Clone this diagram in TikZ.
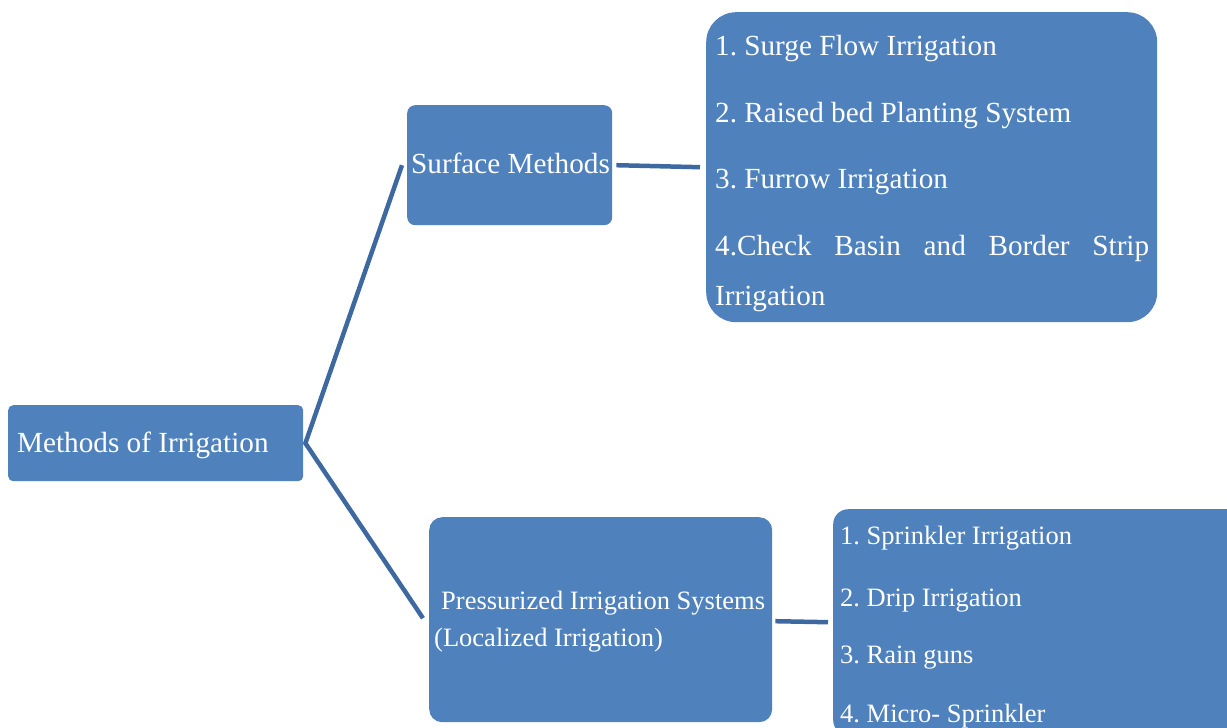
\documentclass[tikz,border=0pt]{standalone}
\usepackage{fontspec}
\setmainfont{Liberation Serif}
\frenchspacing
\definecolor{boxblue}{HTML}{4F81BD}
\definecolor{lineblue}{RGB}{62,105,160}
\tikzset{
  box/.style={draw=none, fill=boxblue, inner sep=0pt, anchor=north west},
  big/.style={text=white, inner sep=0pt, anchor=base west, font=\fontsize{29.2}{35}\selectfont},
  small/.style={text=white, inner sep=0pt, anchor=base west, font=\fontsize{26.5}{32}\selectfont},
  conn/.style={draw=lineblue, line width=4.5pt},
}
\begin{document}
\begin{tikzpicture}[x=1pt,y=-1pt]
\useasboundingbox (0,0) rectangle (1227,728);
\clip (0,0) rectangle (1227,728);
% boxes
\node[box, rounded corners=5pt, minimum width=295pt, minimum height=76pt] (root) at (8,405) {};
\node[box, rounded corners=8pt, minimum width=205pt, minimum height=120pt] (surf) at (407,105) {};
\node[box, rounded corners=30pt, minimum width=451pt, minimum height=310pt] (slist) at (706,12) {};
\node[box, rounded corners=13pt, minimum width=343pt, minimum height=205pt] (press) at (429,517) {};
\node[box, rounded corners=15pt, minimum width=410pt, minimum height=226pt] (plist) at (833,509) {};
% texts
\node[big] (troot) at (17,452) {Methods of Irrigation};
\node[big] (tsurf) at (411,173) {Surface Methods};
\node[big] (s1) at (715,55) {1. Surge Flow Irrigation};
\node[big] (s2) at (715,122) {2. Raised bed Planting System};
\node[big] (s3) at (715,188) {3. Furrow Irrigation};
\node[big] (s4) at (715,255) {\hbox to 434pt{4.Check\hfill Basin\hfill and\hfill Border\hfill Strip}};
\node[big] (s5) at (715,305) {Irrigation};
\node[small] (tpress1) at (441,609) {Pressurized Irrigation Systems};
\node[small] (tpress2) at (434,646) {(Localized Irrigation)};
\node[small] (p1) at (840,544) {1. Sprinkler Irrigation};
\node[small] (p2) at (840,606) {2. Drip Irrigation};
\node[small] (p3) at (840,663) {3. Rain guns};
\node[small] (p4) at (840,722) {4. Micro- Sprinkler};
% connectors
\coordinate (hub) at ([xshift=2pt]root.east);
\draw[conn] ([xshift=-5pt]surf.west) -- (hub) -- ([xshift=-6pt,yshift=1.5pt]press.west);
\draw[conn] ([xshift=4pt]surf.east) -- ([xshift=-6pt]slist.west);
\draw[conn] ([xshift=3pt,yshift=-1.5pt]press.east) -- ([xshift=-5pt]plist.west);
\end{tikzpicture}
\end{document}
